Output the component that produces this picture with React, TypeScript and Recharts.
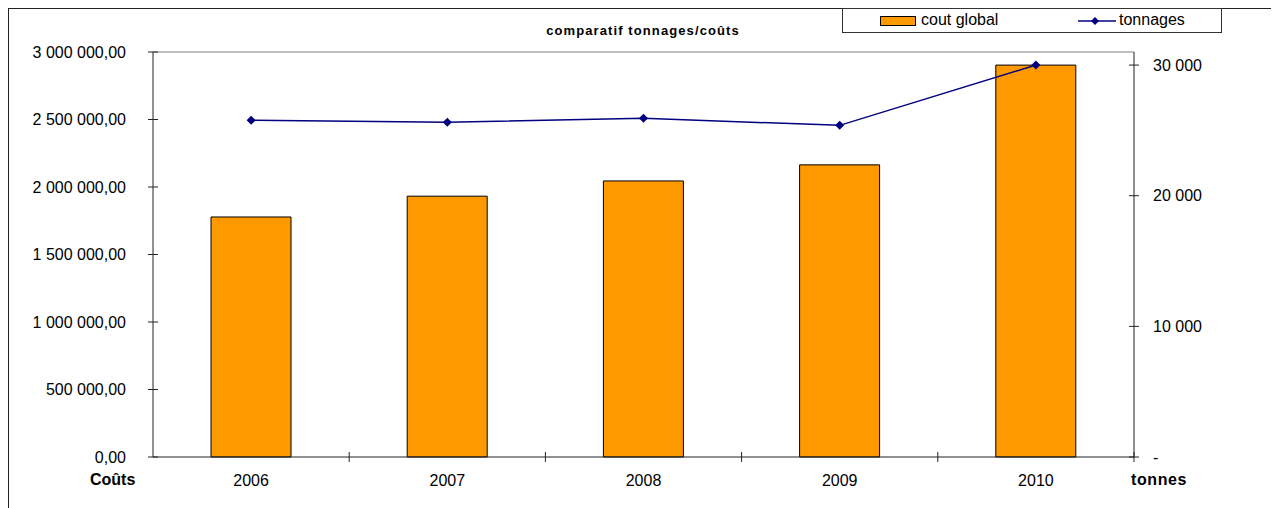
import { ComposedChart, Bar, Line, XAxis, YAxis, ReferenceLine, Legend } from 'recharts';

// valeurs
const annees = ['2006', '2007', '2008', '2009', '2010'];
const coutGlobal = [1778000, 1932000, 2045000, 2164000, 2903000];
const tonnages = [25770, 25615, 25923, 25385, 30000];
const ticksCouts = [0, 500000, 1000000, 1500000, 2000000, 2500000, 3000000];
const ticksTonnes = [0, 10000, 20000, 30000];

const data = annees.map((annee, i) => ({
  annee,
  cout: coutGlobal[i],
  tonnage: tonnages[i],
}));

const FONT = 'Arial, "Liberation Sans", sans-serif';
const AXIS = '#222';

if (typeof document !== 'undefined') document.body.style.overflow = 'hidden';

const groupe = (n: number) => Math.round(n).toString().replace(/\B(?=(\d{3})+(?!\d))/g, ' ');
const fmtCout = (v: number) => `${groupe(v)},00`;
const fmtTonnes = (v: number) => (v === 0 ? '-' : groupe(v));

const TickGauche = (props: any) => {
  const { x, y, payload } = props;
  return (
    <g>
      <line x1={x + 22} x2={x + 32} y1={y} y2={y} stroke={AXIS} />
      <text x={x} y={y} dy="0.355em" textAnchor="end" fontSize={16} fontFamily={FONT} fill="#000">
        {fmtCout(payload.value)}
      </text>
    </g>
  );
};

const TickDroite = (props: any) => {
  const { x, y, payload } = props;
  return (
    <g>
      <line x1={x - 24} x2={x - 14} y1={y} y2={y} stroke={AXIS} />
      <text x={x} y={y} dy="0.355em" textAnchor="start" fontSize={16} fontFamily={FONT} fill="#000">
        {fmtTonnes(payload.value)}
      </text>
    </g>
  );
};

const TickBas = (props: any) => {
  const { x, y, payload } = props;
  const off = payload.offset ?? 98;
  const axeY = y - 18;
  return (
    <g>
      <line x1={x + off} x2={x + off} y1={axeY - 5} y2={axeY + 5} stroke={AXIS} />
      <text x={x} y={y} dy="0.71em" textAnchor="middle" fontSize={16} fontFamily={FONT} fill="#000">
        {payload.value}
      </text>
    </g>
  );
};

const Legende = () => (
  <div
    style={{
      position: 'relative',
      width: 378,
      height: 23,
      border: '1px solid #333',
      background: '#fff',
      fontFamily: FONT,
      fontSize: 16,
    }}
  >
    <div
      style={{
        position: 'absolute',
        left: 37,
        top: 7,
        width: 34,
        height: 8,
        background: '#FF9900',
        border: '1px solid #000',
      }}
    />
    <span style={{ position: 'absolute', left: 78, top: 2 }}>cout global</span>
    <svg style={{ position: 'absolute', left: 235, top: 6 }} width={38} height={12}>
      <line x1={0} x2={38} y1={6} y2={6} stroke="#000080" strokeWidth={1.5} />
      <path d="M17 2 L21 6 L17 10 L13 6 Z" fill="#000080" />
    </svg>
    <span style={{ position: 'absolute', left: 276, top: 2 }}>tonnages</span>
  </div>
);

const Losange = (props: any) => {
  const { cx, cy } = props;
  if (cx == null || cy == null) return null;
  return <path d={`M${cx} ${cy - 4.5} L${cx + 4.5} ${cy} L${cx} ${cy + 4.5} L${cx - 4.5} ${cy} Z`} fill="#000080" />;
};

const App = () => {
  return (
    <div
      style={{
        position: 'relative',
        width: 1268,
        height: 510,
        borderTop: '1px solid #222',
        borderLeft: '1px solid #222',
        borderRight: '1px solid #222',
        fontFamily: FONT,
        background: '#fff',
      }}
    >
      <div
        style={{
          position: 'absolute',
          left: 534,
          top: 14,
          width: 200,
          textAlign: 'center',
          fontSize: 13,
          fontWeight: 'bold',
          letterSpacing: 1.1,
          zIndex: 2,
        }}
      >
        comparatif tonnages/coûts
      </div>
      <div style={{ position: 'absolute', left: 81, top: 462, fontSize: 16, fontWeight: 'bold', zIndex: 2 }}>Coûts</div>
      <div
        style={{
          position: 'absolute',
          left: 1122,
          top: 462,
          fontSize: 16,
          fontWeight: 'bold',
          letterSpacing: 0.6,
          zIndex: 2,
        }}
      >
        tonnes
      </div>
      <ComposedChart width={1268} height={491} data={data} margin={{ top: 18, right: 0, left: 0, bottom: 0 }}>
        <XAxis
          dataKey="annee"
          height={43}
          axisLine={{ stroke: AXIS }}
          tickLine={false}
          tickSize={5}
          tickMargin={13}
          tick={<TickBas />}
          interval={0}
        />
        <YAxis
          yAxisId="left"
          orientation="left"
          width={144}
          domain={[0, 3000000]}
          ticks={ticksCouts}
          interval={0}
          axisLine={{ stroke: AXIS }}
          tickLine={false}
          tickSize={5}
          tickMargin={22}
          tick={<TickGauche />}
        />
        <YAxis
          yAxisId="right"
          orientation="right"
          width={143}
          domain={[0, 31000]}
          ticks={ticksTonnes}
          interval={0}
          axisLine={{ stroke: AXIS }}
          tickLine={false}
          tickSize={5}
          tickMargin={14}
          tick={<TickDroite />}
        />
        <ReferenceLine yAxisId="left" y={3000000} stroke="#808080" />
        <Legend
          verticalAlign="top"
          content={<Legende />}
          wrapperStyle={{ position: 'absolute', top: -1, left: 833, width: 380, height: 25 }}
        />
        <Bar
          yAxisId="left"
          dataKey="cout"
          name="cout global"
          fill="#FF9900"
          stroke="#000"
          strokeWidth={1}
          barSize={80}
          isAnimationActive={false}
        />
        <Line
          yAxisId="right"
          dataKey="tonnage"
          name="tonnages"
          type="linear"
          stroke="#000080"
          strokeWidth={1.5}
          dot={<Losange />}
          activeDot={false}
          isAnimationActive={false}
        />
      </ComposedChart>
    </div>
  );
};

export default App;
